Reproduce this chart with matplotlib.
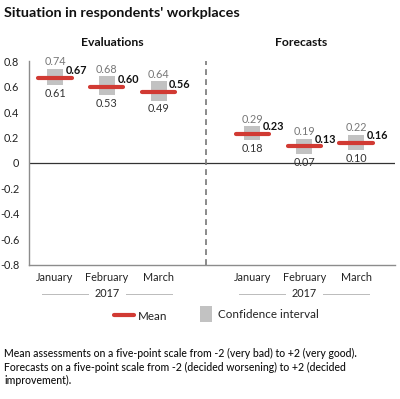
import matplotlib
matplotlib.use("Agg")
import matplotlib.pyplot as plt
import matplotlib.transforms as mtransforms
from matplotlib.patches import Rectangle
from matplotlib.lines import Line2D

plt.rcParams['font.family'] = ['Lato', 'DejaVu Sans']

# data
months = ['January', 'February', 'March']
eval_mean = [0.67, 0.60, 0.56]
eval_upper = [0.74, 0.68, 0.64]
eval_lower = [0.61, 0.53, 0.49]
fc_mean = [0.23, 0.13, 0.16]
fc_upper = [0.29, 0.19, 0.22]
fc_lower = [0.18, 0.07, 0.10]
year = '2017'
yticks = [0.8, 0.6, 0.4, 0.2, 0, -0.2, -0.4, -0.6, -0.8]

eval_x = [0, 1, 2]
fc_x = [3.8, 4.8, 5.8]
divider_x = 2.9

red = '#d13a33'
gray = '#c2c2c2'
axcol = '#8c8c8c'
fs = 7.8

fig = plt.figure(figsize=(4.0, 3.99), dpi=100)
ax = fig.add_axes([0.0725, 0.336, 0.915, 0.511])
ax.set_xlim(-0.5, 6.55)
ax.set_ylim(-0.8, 0.8)

for xs, m, up, lo in [(eval_x, eval_mean, eval_upper, eval_lower),
                      (fc_x, fc_mean, fc_upper, fc_lower)]:
    for x, mv, u, l in zip(xs, m, up, lo):
        ax.add_patch(Rectangle((x - 0.155, l), 0.31, u - l, facecolor=gray,
                               edgecolor='none', zorder=2))
        ax.plot([x - 0.32, x + 0.32], [mv, mv], color=red, lw=3.0,
                solid_capstyle='round', zorder=3)
        ax.text(x, u + 0.012, f'{u:.2f}', ha='center', va='bottom',
                fontsize=fs, color='#777777')
        ax.text(x, l - 0.02, f'{l:.2f}', ha='center', va='top',
                fontsize=fs, color='#333333')
        ax.text(x + 0.2, mv + 0.01, f'{mv:.2f}', ha='left', va='bottom',
                fontsize=fs, fontweight='bold', color='#111111')

ax.axhline(0, color='#333333', lw=0.9, zorder=1)
ax.axvline(divider_x, color='#777777', lw=1.2, ls=(0, (3.5, 2.5)))

for s in ['top', 'right']:
    ax.spines[s].set_visible(False)
for s in ['left', 'bottom']:
    ax.spines[s].set_color(axcol)
    ax.spines[s].set_linewidth(1.0)

ax.set_yticks(yticks)
ax.set_yticklabels(['0' if v == 0 else f'{v:g}' for v in yticks])
ax.tick_params(axis='y', length=0, pad=7, labelsize=fs, labelcolor='#222222')
ax.set_xticks(eval_x + fc_x)
ax.set_xticklabels(months + months)
ax.tick_params(axis='x', length=0, pad=5, labelsize=fs, labelcolor='#222222')

trans = mtransforms.blended_transform_factory(ax.transData, ax.transAxes)
for c in [1, 4.8]:
    ax.text(c, -0.142, year, transform=trans, ha='center', va='center',
            fontsize=fs, color='#222222')
    ax.plot([c - 1.25, c - 0.37], [-0.142, -0.142], transform=trans,
            color='#bbbbbb', lw=0.7, clip_on=False)
    ax.plot([c + 0.37, c + 1.25], [-0.142, -0.142], transform=trans,
            color='#bbbbbb', lw=0.7, clip_on=False)

ax.text(1.1, 1.09, 'Evaluations', transform=trans, ha='center', va='center',
        fontsize=8.8, fontweight='bold', color='#111111')
ax.text(4.75, 1.09, 'Forecasts', transform=trans, ha='center', va='center',
        fontsize=8.8, fontweight='bold', color='#111111')

fig.text(0.01, 0.968, "Situation in respondents' workplaces", ha='left',
         va='center', fontsize=10.4, fontweight='bold', color='#111111')

# legend
fig.add_artist(Line2D([0.285, 0.335], [0.211, 0.211], color=red, lw=3.0,
                      solid_capstyle='round'))
fig.text(0.345, 0.208, 'Mean', ha='left', va='center', fontsize=8.4,
         color='#222222')
fig.add_artist(Rectangle((0.5, 0.193), 0.03, 0.04, facecolor=gray,
                         edgecolor='none'))
fig.text(0.545, 0.213, 'Confidence interval', ha='left', va='center',
         fontsize=8.4, color='#222222')

note = ("Mean assessments on a five-point scale from -2 (very bad) to +2 (very good).\n"
        "Forecasts on a five-point scale from -2 (decided worsening) to +2 (decided\n"
        "improvement).")
fig.text(0.01, 0.08, note, ha='left', va='center', fontsize=7.6,
         color='#111111', linespacing=1.3, fontweight='medium')

fig.savefig('out.png', dpi=100)
